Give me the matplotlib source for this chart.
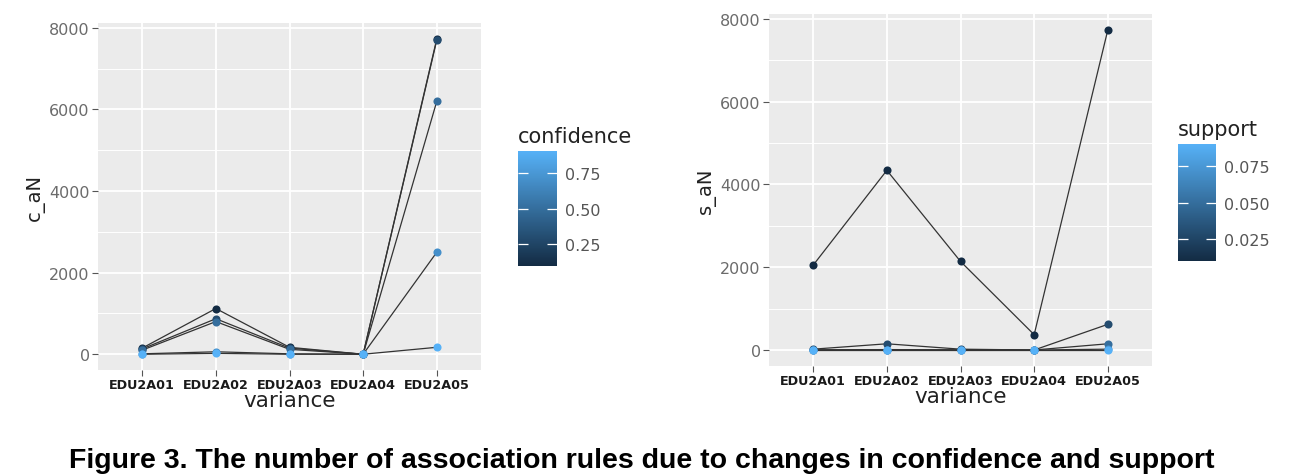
import matplotlib.pyplot as plt
import matplotlib as mpl
from matplotlib.colors import LinearSegmentedColormap, Normalize
from matplotlib.ticker import MultipleLocator
import numpy as np

# data
variance = ["EDU2A01", "EDU2A02", "EDU2A03", "EDU2A04", "EDU2A05"]

confidence = [0.1, 0.3, 0.5, 0.7, 0.9]
c_aN = [
    [150, 1120, 170, 0, 7730],
    [130, 870, 150, 0, 7700],
    [100, 800, 120, 0, 6200],
    [10, 60, 10, 0, 2500],
    [0, 20, 0, 0, 170],
]

support = [0.01, 0.03, 0.05, 0.07, 0.09]
s_aN = [
    [2050, 4340, 2140, 370, 7730],
    [20, 150, 20, 0, 620],
    [5, 10, 5, 0, 150],
    [0, 0, 0, 0, 20],
    [0, 0, 0, 0, 0],
]

# ggplot default continuous colour scale
cmap = LinearSegmentedColormap.from_list("gg", ["#132B43", "#56B1F7"])

W, H = 1308, 477
fig = plt.figure(figsize=(W / 100, H / 100), dpi=100)


def px(x0, y0, x1, y1):
    # pixel box -> figure fraction box
    return [x0 / W, 1 - y1 / H, (x1 - x0) / W, (y1 - y0) / H]


def gg_panel(ax, levels, values, ylab):
    norm = Normalize(min(levels), max(levels))
    x = np.arange(len(variance))
    for lev, vals in zip(levels, values):
        ax.plot(x, vals, color="#333333", lw=0.9, zorder=2)
    for lev, vals in zip(levels, values):
        ax.scatter(x, vals, s=34, color=cmap(norm(lev)), zorder=3, linewidths=0)
    top = max(max(v) for v in values)
    ax.set_xlim(-0.6, len(variance) - 0.4)
    ax.set_ylim(-0.05 * top, top * 1.05)
    ax.set_facecolor("#EBEBEB")
    ax.set_xticks(x)
    ax.set_xticklabels(variance, fontsize=9.2, fontweight="bold", color="#1a1a1a")
    ax.yaxis.set_major_locator(MultipleLocator(2000))
    ax.yaxis.set_minor_locator(MultipleLocator(1000))
    ax.tick_params(axis="y", labelsize=11.5, labelcolor="#6b6b6b", color="#555555",
                   length=4, width=0.8, pad=2)
    ax.tick_params(axis="x", color="#555555", length=4, width=0.8, pad=2)
    ax.tick_params(which="minor", length=0)
    ax.grid(which="major", color="white", lw=1.3)
    ax.grid(which="minor", axis="y", color="white", lw=0.7)
    ax.set_axisbelow(True)
    for sp in ax.spines.values():
        sp.set_visible(False)
    ax.set_xlabel("variance", fontsize=15.5, color="#222222", labelpad=-1)
    ax.set_ylabel(ylab, fontsize=14, color="#222222", labelpad=3)
    return norm


def gg_colorbar(box, norm, title, ticks, fmt, title_y):
    cax = fig.add_axes(px(*box))
    cb = mpl.colorbar.ColorbarBase(cax, cmap=cmap, norm=norm)
    cb.outline.set_visible(False)
    cb.set_ticks(ticks)
    cb.set_ticklabels([fmt.format(t) for t in ticks])
    cax.yaxis.set_ticks_position("both")
    cax.tick_params(which="both", direction="in", length=7, width=0.9, color="white",
                    labelsize=11.5, labelcolor="#555555", pad=6)
    cax.tick_params(labelleft=False, labelright=True)
    cax.minorticks_off()
    fig.text(box[0] / W, 1 - title_y / H, title, fontsize=15, color="#222222",
             ha="left", va="center")


ax1 = fig.add_axes(px(98, 24, 481, 371))
n1 = gg_panel(ax1, confidence, c_aN, "c_aN")
gg_colorbar((518, 152, 557, 267), n1, "confidence", [0.25, 0.50, 0.75], "{:.2f}", 137)

ax2 = fig.add_axes(px(769, 15, 1152, 367))
n2 = gg_panel(ax2, support, s_aN, "s_aN")
gg_colorbar((1178, 145, 1216, 262), n2, "support", [0.025, 0.050, 0.075], "{:.3f}", 130)

fig.text(642 / W, 1 - 461 / H,
         "Figure 3. The number of association rules due to changes in confidence and support",
         fontsize=20.5, fontweight="bold", family="Liberation Sans", ha="center", va="center")

fig.savefig("out.png", dpi=100)
